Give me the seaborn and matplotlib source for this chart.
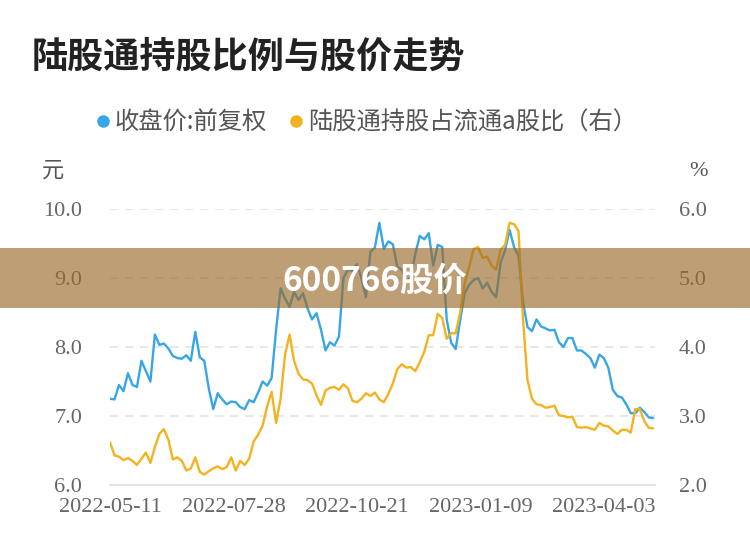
import matplotlib
matplotlib.use("Agg")
import matplotlib.pyplot as plt
import seaborn as sns
import numpy as np
import pandas as pd
from matplotlib.lines import Line2D
from matplotlib.patches import Rectangle

# closing price (forward adjusted), yuan - one value every 2 trading days from 2022-05-11
price = [
    7.25, 7.24, 7.45, 7.36, 7.62, 7.45, 7.42, 7.80, 7.65, 7.50,
    8.18, 8.03, 8.05, 7.98, 7.87, 7.84, 7.83, 7.88, 7.80, 8.22,
    7.85, 7.80, 7.40, 7.10, 7.33, 7.24, 7.17, 7.21, 7.20, 7.13,
    7.10, 7.23, 7.20, 7.34, 7.50, 7.44, 7.55, 8.25, 8.85, 8.70,
    8.58, 8.80, 8.68, 8.78, 8.56, 8.40, 8.49, 8.25, 7.95, 8.07,
    8.02, 8.15, 9.00, 9.12, 9.10, 9.20, 9.00, 8.72, 9.38, 9.44,
    9.80, 9.42, 9.53, 9.49, 9.16, 9.12, 8.95, 9.01, 9.35, 9.61,
    9.56, 9.65, 9.18, 9.48, 9.45, 8.40, 8.06, 7.97, 8.39, 8.78,
    8.90, 8.97, 9.00, 8.85, 8.93, 8.80, 8.72, 9.22, 9.40, 9.70,
    9.45, 9.32, 8.65, 8.29, 8.23, 8.40, 8.30, 8.27, 8.24, 8.25,
    8.07, 8.00, 8.13, 8.13, 7.95, 7.95, 7.90, 7.84, 7.70, 7.89,
    7.84, 7.70, 7.38, 7.29, 7.27, 7.17, 7.04, 7.04, 7.12, 7.06,
    6.98, 6.97,
]

# Stock Connect holding as % of tradable A shares (right axis)
hold_pct = [
    2.62, 2.43, 2.41, 2.36, 2.39, 2.35, 2.29, 2.38, 2.47, 2.32,
    2.55, 2.74, 2.81, 2.66, 2.37, 2.40, 2.35, 2.21, 2.24, 2.40,
    2.19, 2.15, 2.20, 2.24, 2.27, 2.23, 2.26, 2.40, 2.21, 2.35,
    2.29, 2.38, 2.63, 2.73, 2.86, 3.14, 3.35, 2.90, 3.25, 3.89,
    4.18, 3.80, 3.61, 3.53, 3.52, 3.47, 3.30, 3.16, 3.37, 3.41,
    3.42, 3.38, 3.46, 3.40, 3.22, 3.20, 3.25, 3.33, 3.29, 3.34,
    3.24, 3.20, 3.32, 3.47, 3.68, 3.75, 3.70, 3.71, 3.65, 3.78,
    3.93, 4.17, 4.17, 4.48, 4.42, 4.12, 4.20, 4.20, 4.50, 4.92,
    5.16, 5.42, 5.45, 5.29, 5.31, 5.18, 5.12, 5.41, 5.48, 5.80,
    5.78, 5.68, 4.40, 3.52, 3.25, 3.17, 3.16, 3.12, 3.13, 3.15,
    3.01, 3.00, 2.98, 2.99, 2.84, 2.83, 2.84, 2.82, 2.80, 2.90,
    2.86, 2.85, 2.79, 2.74, 2.80, 2.80, 2.76, 3.10, 3.10, 2.93,
    2.83, 2.82,
]

tick_days = [0, 55, 110, 165, 220]
tick_labels = ["2022-05-11", "2022-07-28", "2022-10-21", "2023-01-09", "2023-04-03"]
left_ticks = [6.0, 7.0, 8.0, 9.0, 10.0]
right_ticks = [2.0, 3.0, 4.0, 5.0, 6.0]

BLUE = "#38a6e4"
YELLOW = "#f4b221"
GRID = "#e4e4e4"
TICK = "#666666"

sns.set_theme(style="white")
plt.rcParams['font.family'] = ['Noto Sans CJK SC', 'DejaVu Sans']

df = pd.DataFrame({
    "day": np.arange(len(price)) * 2,
    "price": price,
    "pct": hold_pct,
})

fig = plt.figure(figsize=(7.5, 5.58), dpi=100)
ax = fig.add_axes([110 / 750, 1 - 485 / 558, 545 / 750, 276 / 558])
ax2 = ax.twinx()

sns.lineplot(data=df, x="day", y="price", ax=ax, color=BLUE, linewidth=1.7)
sns.lineplot(data=df, x="day", y="pct", ax=ax2, color=YELLOW, linewidth=1.7)

ax.set_xlim(0, 242.8)
ax.set_ylim(6, 10)
ax2.set_ylim(2, 6)
ax.set_xticks(tick_days)
ax.set_xticklabels(tick_labels)
ax.set_yticks(left_ticks)
ax.set_yticklabels([f"{v:.1f}" for v in left_ticks])
ax2.set_yticks(right_ticks)
ax2.set_yticklabels([f"{v:.1f}" for v in right_ticks])
ax.set_xlabel("")
ax.set_ylabel("")
ax2.set_ylabel("")

ax.yaxis.grid(True, linestyle=(0, (5, 4)), color=GRID, linewidth=1.2)
ax.xaxis.grid(False)
for a in (ax, ax2):
    for s in a.spines.values():
        s.set_visible(False)
ax.spines["bottom"].set_visible(True)
ax.spines["bottom"].set_color(GRID)
ax.spines["bottom"].set_linewidth(1.5)

serif = ['Liberation Serif', 'DejaVu Serif']
ax.tick_params(axis="x", length=0, pad=9, labelsize=16, labelcolor=TICK)
ax.tick_params(axis="y", length=0, pad=20, labelsize=16, labelcolor=TICK)
ax2.tick_params(axis="y", length=0, pad=17, labelsize=16, labelcolor=TICK)
for lab in ax.get_xticklabels() + ax.get_yticklabels() + ax2.get_yticklabels():
    lab.set_family(serif)

fig.text(53 / 750, 1 - 170 / 558, "元", ha="center", va="center", fontsize=16, color="#555555")
fig.text(698 / 750, 1 - 171 / 558, "%", ha="center", va="center", fontsize=16,
         color="#555555", family=serif)

fig.text(32 / 750, 1 - 57 / 558, "陆股通持股比例与股价走势", ha="left", va="center",
         fontsize=26, fontweight="bold", color="#222222")

handles = [
    Line2D([], [], marker="o", linestyle="", color=BLUE, markersize=8),
    Line2D([], [], marker="o", linestyle="", color=YELLOW, markersize=8),
]
leg = fig.legend(handles, ["收盘价:前复权", "陆股通持股占流通a股比（右）"],
                 loc="center", bbox_to_anchor=(364 / 750, 1 - 123 / 558), ncol=2,
                 frameon=False, fontsize=17.5, handletextpad=0.0, columnspacing=0.7,
                 handlelength=1.0)
for t in leg.get_texts():
    t.set_color("#555555")

# watermark banner across the middle
fig.patches.append(Rectangle((0, 1 - 308 / 558), 1, 60 / 558, transform=fig.transFigure,
                             facecolor="#9b6a2a", alpha=0.65, edgecolor="none", zorder=10))
fig.text(375 / 750, 1 - 281 / 558, "600766股价", ha="center", va="center",
         fontsize=24, fontweight="bold", color="white", zorder=11)

fig.savefig("out.png", dpi=100)
